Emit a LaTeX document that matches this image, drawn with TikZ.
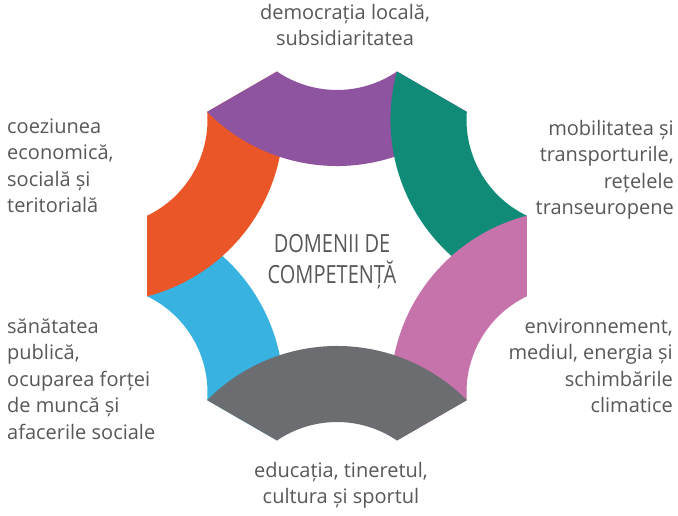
\documentclass[tikz,border=0pt]{standalone}
\usepackage{fontspec}
\setmainfont{Open Sans}
\newfontfamily\narrowfont{Open Sans}[FakeStretch=0.8]

\definecolor{segblue}{RGB}{56,178,225}
\definecolor{segorange}{RGB}{234,86,40}
\definecolor{segpurple}{RGB}{142,84,160}
\definecolor{segteal}{RGB}{16,139,120}
\definecolor{segpink}{RGB}{198,115,172}
\definecolor{seggray}{RGB}{108,109,113}
\definecolor{labelgray}{RGB}{88,88,90}

\tikzset{
  labeltext/.style={inner sep=0pt, text=labelgray, font=\fontsize{20}{26.5}\selectfont},
  centretext/.style={inner sep=0pt, text=labelgray, align=center, font=\narrowfont\fontsize{25}{25}\selectfont}
}

\begin{document}
\begin{tikzpicture}[x=1pt,y=1pt]
\fill[white] (-337,-259) rectangle (341,256);
\useasboundingbox (-337,-259) rectangle (341,256);
%\draw[help lines,step=50] (-337,-259) grid (341,256);
% bands, lowest first
\foreach \a/\c in {210/segblue, 150/segorange, 90/segpurple, 30/segteal, -30/segpink, -90/seggray}
  \fill[\c] (\a+42:194) -- (\a+18:194)
    arc[start angle=\a+145.73, end angle=\a+214.27, radius=106.5]
    -- (\a-42:194)
    arc[start angle=\a+225.33, end angle=\a+134.67, radius=182.5] -- cycle;

\node[centretext, anchor=north] (domenii) at (-5,21.5) {\strut DOMENII DE\\COMPETENȚĂ};

\node[labeltext, align=center, anchor=north] (dem) at (8,255.5) {\strut democrația locală,\\subsidiaritatea};
\node[labeltext, align=right, anchor=north east] (mobil) at (337,139.6) {\strut mobilitatea și\\transporturile,\\rețelele\\transeuropene};
\node[labeltext, align=right, anchor=north east] (mediu) at (336,-58.4) {\strut environnement,\\mediul, energia și\\schimbările\\climatice};
\node[labeltext, align=center, anchor=north] (edu) at (4,-202.4) {\strut educația, tineretul,\\cultura și sportul};
\node[labeltext, align=left, anchor=north west] (sanat) at (-330,-58.4) {\strut sănătatea\\publică,\\ocuparea forței\\de muncă și\\afacerile sociale};
\node[labeltext, align=left, anchor=north west] (coez) at (-330,141.6) {\strut coeziunea\\economică,\\socială și\\teritorială};
\end{tikzpicture}
\end{document}
